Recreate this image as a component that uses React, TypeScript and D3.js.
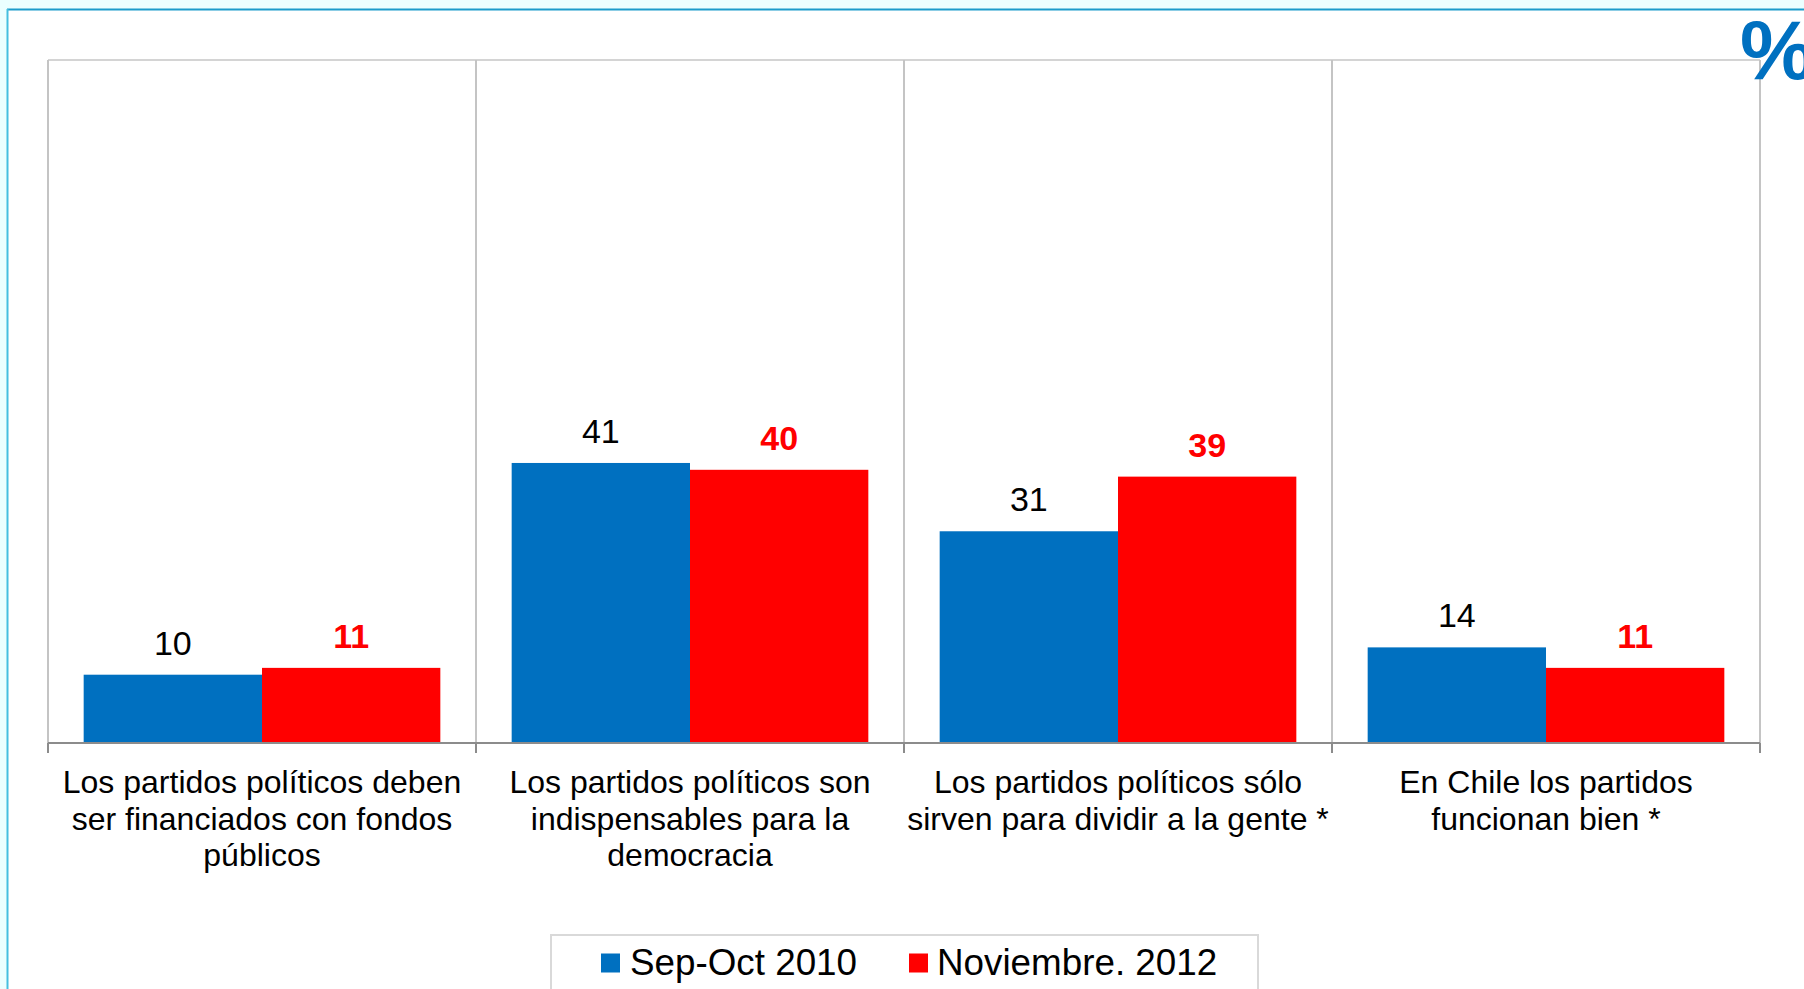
import React from "react";
import * as d3 from "d3";

const categories: string[][] = [
  ["Los partidos políticos deben", "ser financiados con fondos", "públicos"],
  ["Los partidos políticos son", "indispensables para la", "democracia"],
  ["Los partidos políticos sólo", "sirven para dividir a la gente *"],
  ["En Chile los partidos", "funcionan bien *"],
];
const seriesNames = ["Sep-Oct 2010", "Noviembre. 2012"];
const sep2010 = [10, 41, 31, 14];
const nov2012 = [11, 40, 39, 11];
const seriesColors = ["#0070C0", "#FF0000"];

const W = 1804;
const H = 989;
const FONT = "'Liberation Sans', Arial, Helvetica, sans-serif";

export default function App() {
  const left = 48;
  const right = 1760;
  const top = 60;
  const bottom = 743;

  const x = d3
    .scaleBand<number>()
    .domain(d3.range(categories.length))
    .range([left, right])
    .paddingInner(0)
    .paddingOuter(0);
  const xs = d3
    .scaleBand<number>()
    .domain([0, 1])
    .range([0, x.bandwidth()])
    .paddingInner(0)
    .paddingOuter(0.2);
  const y = d3.scaleLinear().domain([0, 100]).range([bottom, top]);

  const series = [sep2010, nov2012];
  const boundaries = d3.range(categories.length + 1).map((i) =>
    i < categories.length ? (x(i) as number) : right
  );

  return (
    <div style={{ position: "absolute", left: 0, top: 0 }}>
      <svg width={W} height={H} style={{ display: "block" }}>
        <rect x={0} y={0} width={W} height={H} fill="#EBFFFF" />
        <rect x={8} y={10} width={W - 8} height={H - 10} fill="#FFFFFF" />
        <line x1={7} y1={9.5} x2={W} y2={9.5} stroke="#1B9CCB" strokeWidth={2} />
        <line x1={7.5} y1={9} x2={7.5} y2={H} stroke="#45BFE0" strokeWidth={2} />

        {/* plot frame */}
        <line x1={left} y1={top} x2={right} y2={top} stroke="#D4D4D4" strokeWidth={2} />
        {boundaries.map((bx, i) => (
          <line key={"v" + i} x1={bx} y1={top} x2={bx} y2={bottom} stroke="#C4C4C4" strokeWidth={2} />
        ))}

        {/* bars */}
        {series.map((vals, s) =>
          vals.map((v, i) => (
            <rect
              key={`b${s}-${i}`}
              x={(x(i) as number) + (xs(s) as number)}
              y={y(v)}
              width={xs.bandwidth()}
              height={bottom - y(v)}
              fill={seriesColors[s]}
            />
          ))
        )}

        {/* baseline & ticks */}
        <line x1={left} y1={bottom} x2={right} y2={bottom} stroke="#8C8C8C" strokeWidth={2} />
        {boundaries.map((bx, i) => (
          <line key={"t" + i} x1={bx} y1={bottom} x2={bx} y2={bottom + 10} stroke="#8C8C8C" strokeWidth={2} />
        ))}

        {/* value labels */}
        {series.map((vals, s) =>
          vals.map((v, i) => (
            <text
              key={`l${s}-${i}`}
              x={(x(i) as number) + (xs(s) as number) + xs.bandwidth() / 2}
              y={y(v) - 20}
              textAnchor="middle"
              fontFamily={FONT}
              fontSize={34}
              fontWeight={s === 1 ? "bold" : "normal"}
              fill={s === 1 ? "#FF0000" : "#000000"}
            >
              {v}
            </text>
          ))
        )}

        {/* category labels */}
        {categories.map((lines, i) => (
          <text
            key={"c" + i}
            x={(x(i) as number) + x.bandwidth() / 2}
            y={793}
            textAnchor="middle"
            fontFamily={FONT}
            fontSize={32}
            fill="#000000"
          >
            {lines.map((ln, j) => (
              <tspan key={j} x={(x(i) as number) + x.bandwidth() / 2} dy={j === 0 ? 0 : 36.5}>
                {ln}
              </tspan>
            ))}
          </text>
        ))}

        {/* legend */}
        <rect x={551} y={935} width={707} height={80} fill="#FFFFFF" stroke="#D9D9D9" strokeWidth={2} />
        <rect x={601} y={953.5} width={19} height={19} fill={seriesColors[0]} />
        <text x={630} y={975} fontFamily={FONT} fontSize={36.8} fill="#000000">
          {seriesNames[0]}
        </text>
        <rect x={909} y={953.5} width={19} height={19} fill={seriesColors[1]} />
        <text x={937} y={975} fontFamily={FONT} fontSize={36.8} fill="#000000">
          {seriesNames[1]}
        </text>

        {/* percent sign (cut at the right edge, as in the reference) */}
        <text x={1740} y={79} fontFamily={FONT} fontSize={84} fontWeight="bold" fill="#0070C0">
          %
        </text>
      </svg>
    </div>
  );
}
